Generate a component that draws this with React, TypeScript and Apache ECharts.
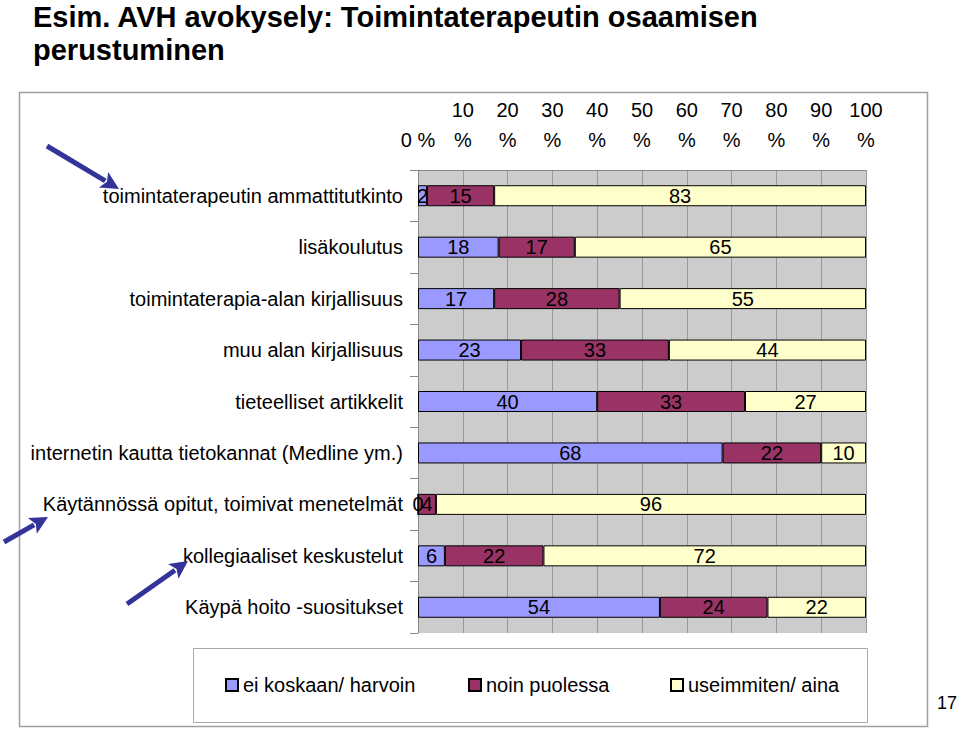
import React, { useEffect, useRef } from 'react';
import * as echarts from 'echarts';

const titleText = 'Esim. AVH avokysely: Toimintaterapeutin osaamisen\nperustuminen';
const categories = [
  'toimintaterapeutin ammattitutkinto',
  'lisäkoulutus',
  'toimintaterapia-alan kirjallisuus',
  'muu alan kirjallisuus',
  'tieteelliset artikkelit',
  'internetin kautta tietokannat (Medline ym.)',
  'Käytännössä opitut, toimivat menetelmät',
  'kollegiaaliset keskustelut',
  'Käypä hoito -suositukset',
];
const seriesNames = ['ei koskaan/ harvoin', 'noin puolessa', 'useimmiten/ aina'];
const neverRarely = [2, 18, 17, 23, 40, 68, 0, 6, 54];
const aboutHalf = [15, 17, 28, 33, 33, 22, 4, 22, 24];
const mostlyAlways = [83, 65, 55, 44, 27, 10, 96, 72, 22];
const seriesColors = ['#9999FF', '#993366', '#FFFFCC'];
const pageNumber = '17';

const FONT = '"Liberation Sans", Arial, sans-serif';

function arrow(x1: number, y1: number, x2: number, y2: number) {
  const dx = x2 - x1;
  const dy = y2 - y1;
  const len = Math.sqrt(dx * dx + dy * dy);
  const ux = dx / len;
  const uy = dy / len;
  const px = -uy;
  const py = ux;
  const headLen = 18;
  const headW = 9;
  const bx = x2 - ux * headLen;
  const by = y2 - uy * headLen;
  return [
    {
      type: 'line',
      shape: { x1, y1, x2: bx + ux * 2, y2: by + uy * 2 },
      style: { stroke: '#333399', lineWidth: 5 },
      z: 10,
    },
    {
      type: 'polygon',
      shape: {
        points: [
          [x2, y2],
          [bx + px * headW, by + py * headW],
          [bx + ux * 4, by + uy * 4],
          [bx - px * headW, by - py * headW],
        ],
      },
      style: { fill: '#333399' },
      z: 10,
    },
  ];
}

export default function App() {
  const ref = useRef<HTMLDivElement>(null);
  useEffect(() => {
    if (!ref.current) return;
    const chart = echarts.init(ref.current, null, { renderer: 'svg' });
    const data = [neverRarely, aboutHalf, mostlyAlways];
    chart.setOption({
      animation: false,
      backgroundColor: '#ffffff',
      textStyle: { fontFamily: FONT },
      title: {
        text: titleText,
        left: 33,
        top: 0,
        padding: 0,
        textStyle: {
          fontFamily: FONT,
          fontSize: 29,
          lineHeight: 33,
          fontWeight: 'bold',
          color: '#000000',
        },
      },
      legend: seriesNames.map((n, i) => ({
        data: [n],
        left: [225, 468, 670][i],
        top: 675,
        padding: 0,
        itemWidth: 12,
        itemHeight: 12,
        itemGap: 0,
        icon: 'rect',
        textStyle: { fontFamily: FONT, fontSize: 20, color: '#000000' },
      })),
      grid: {
        left: 418,
        right: 94,
        top: 170,
        bottom: 96,
        show: true,
        backgroundColor: '#cccccc',
        borderWidth: 0,
        containLabel: false,
      },
      xAxis: {
        type: 'value',
        position: 'top',
        min: 0,
        max: 100,
        interval: 10,
        axisLine: { show: true, lineStyle: { color: '#888888', width: 1 } },
        axisTick: { show: false },
        splitLine: { show: true, lineStyle: { color: '#999999', width: 1 } },
        axisLabel: {
          formatter: (v: number) => (v === 0 ? '0 %' : v + '\n%'),
          fontFamily: FONT,
          fontSize: 20,
          lineHeight: 30,
          color: '#000000',
          margin: 15,
        },
      },
      yAxis: {
        type: 'category',
        inverse: true,
        data: categories,
        axisLine: { show: true, lineStyle: { color: '#888888', width: 1 } },
        axisTick: { show: true, length: 8, lineStyle: { color: '#888888' } },
        axisLabel: {
          fontFamily: FONT,
          fontSize: 20,
          color: '#000000',
          margin: 15,
        },
      },
      series: seriesNames.map((name, i) => ({
        name,
        type: 'bar',
        stack: 'total',
        barWidth: 21,
        data: data[i],
        itemStyle: { color: seriesColors[i], borderColor: '#000000', borderWidth: 1 },
        label: {
          show: true,
          position: 'inside',
          fontFamily: FONT,
          fontSize: 20,
          color: '#000000',
        },
      })),
      graphic: [
        {
          type: 'rect',
          shape: { x: 19.5, y: 92.5, width: 908, height: 634 },
          style: { fill: 'none', stroke: '#a0a0a0', lineWidth: 1.5 },
          z: -10,
          silent: true,
        },
        {
          type: 'rect',
          shape: { x: 193.5, y: 648.5, width: 674, height: 74 },
          style: { fill: 'none', stroke: '#aaaaaa', lineWidth: 1 },
          z: -5,
          silent: true,
        },
        {
          type: 'text',
          x: 937,
          y: 703,
          style: {
            text: pageNumber,
            fontFamily: FONT,
            fontSize: 18,
            fill: '#000000',
            verticalAlign: 'middle',
          },
        },
        ...arrow(47, 146, 119, 189),
        ...arrow(4, 542, 48, 517),
        ...arrow(127, 604, 188, 561),
      ],
    });
    return () => chart.dispose();
  }, []);
  return (
    <div
      ref={ref}
      style={{ position: 'fixed', left: 0, top: 0, width: 960, height: 729 }}
    />
  );
}
